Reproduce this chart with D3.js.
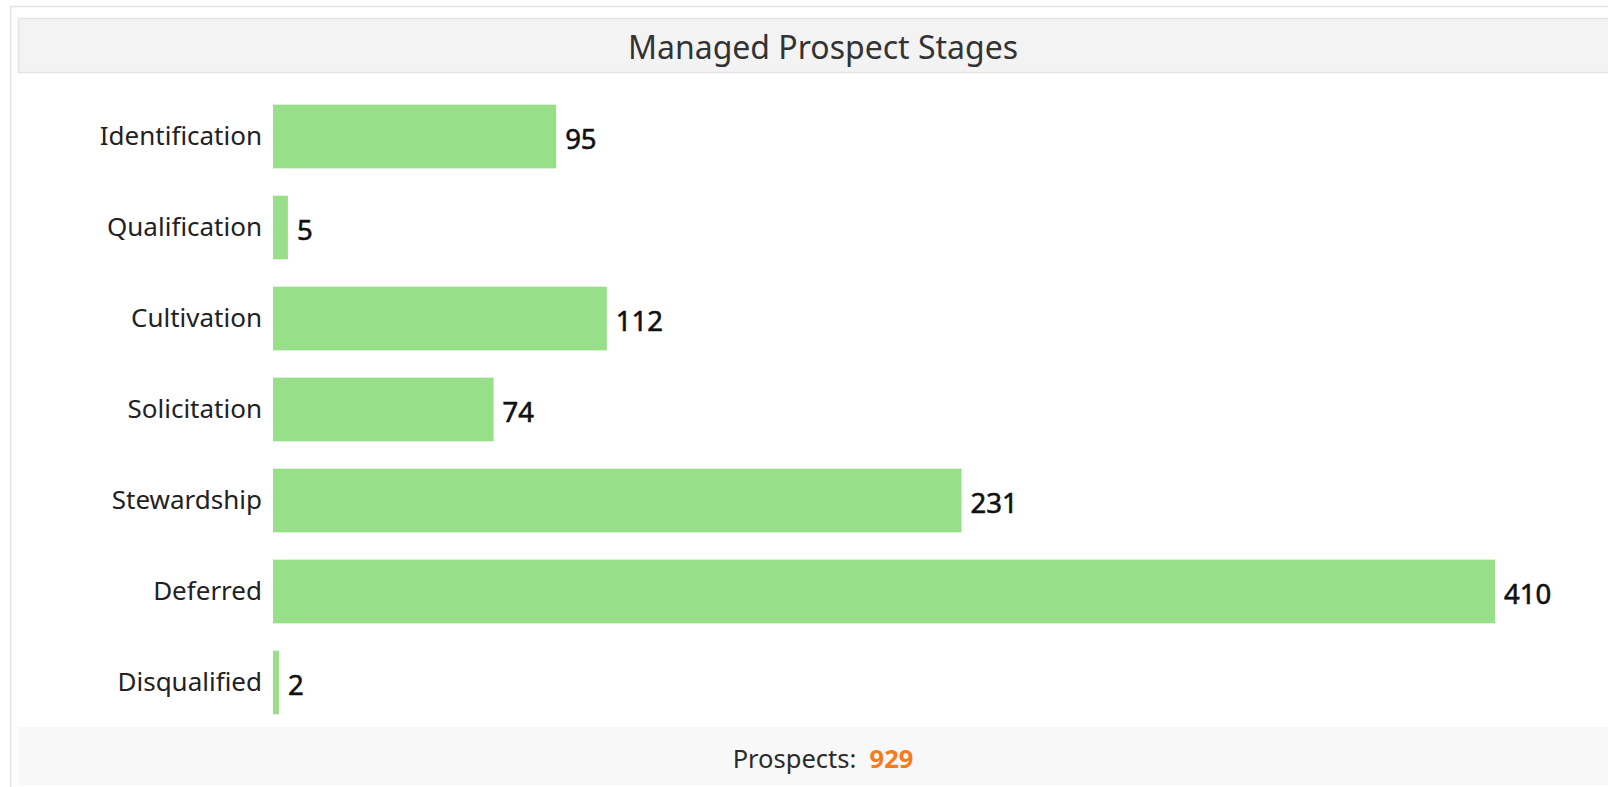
<!DOCTYPE html>
<html>
<head>
<meta charset="utf-8">
<script src="https://cdn.jsdelivr.net/npm/d3@7"></script>
<style>
  html, body { margin: 0; padding: 0; background: #ffffff; overflow: hidden; }
  svg { display: block; }
</style>
</head>
<body>
<svg id="chart" width="1608" height="787"></svg>
<script>
// ---- data ----
const categories = ["Identification", "Qualification", "Cultivation", "Solicitation", "Stewardship", "Deferred", "Disqualified"];
const values = [95, 5, 112, 74, 231, 410, 2];
const titleText = "Managed Prospect Stages";
const footerLabel = "Prospects:";
const footerValue = d3.sum(values);

const W = 1608, H = 787;
const svg = d3.select("#chart");
const font = "'Noto Sans', 'Open Sans', sans-serif";

// outer frame
svg.append("rect").attr("x", 10.5).attr("y", 6.5).attr("width", W).attr("height", H)
  .attr("fill", "#ffffff").attr("stroke", "#e3e3e3").attr("stroke-width", 1.5);

// title band
svg.append("rect").attr("x", 18.5).attr("y", 18.5).attr("width", W).attr("height", 54)
  .attr("fill", "#f3f3f3").attr("stroke", "#e4e4e4").attr("stroke-width", 1.5);
svg.append("text").attr("x", 823).attr("y", 46).attr("text-anchor", "middle")
  .attr("dominant-baseline", "central")
  .style("font-family", font).style("font-size", "32px").attr("fill", "#333333")
  .text(titleText);

// footer band
svg.append("rect").attr("x", 18.5).attr("y", 727).attr("width", W).attr("height", 58)
  .attr("fill", "#f8f8f8");
const ft = svg.append("text").attr("x", 823).attr("y", 758).attr("text-anchor", "middle")
  .attr("dominant-baseline", "central")
  .style("font-family", font).style("font-size", "25.5px");
ft.append("tspan").attr("fill", "#2a2a2a").text(footerLabel + "\u00a0\u00a0");
ft.append("tspan").attr("fill", "#f47b20").style("font-weight", "bold").text(footerValue);

// scales
const x = d3.scaleLinear().domain([0, d3.max(values)]).range([273, 1495]);
const y = d3.scaleBand().domain(categories).range([91, 728]).paddingInner(0.3).paddingOuter(0.15);

// bars
const data = categories.map((c, i) => ({ c, v: values[i] }));
svg.append("g").selectAll("rect").data(data).join("rect")
  .attr("x", x(0)).attr("y", d => y(d.c))
  .attr("width", d => x(d.v) - x(0)).attr("height", y.bandwidth())
  .attr("fill", "#98df8a");

// value labels
svg.append("g").selectAll("text").data(data).join("text")
  .attr("x", d => x(d.v) + 9).attr("y", d => y(d.c) + y.bandwidth() / 2 + 2)
  .attr("dominant-baseline", "central")
  .style("font-family", font).style("font-size", "27.5px")
  .attr("fill", "#111111").attr("stroke", "#111111").attr("stroke-width", 0.6)
  .text(d => d.v);

// category axis
const axis = d3.axisLeft(y).tickSize(0).tickPadding(11);
const ga = svg.append("g").attr("transform", `translate(${x(0)},0)`).call(axis);
ga.select(".domain").remove();
ga.selectAll("text").style("font-family", font).style("font-size", "26px").attr("fill", "#222222");
</script>
</body>
</html>
